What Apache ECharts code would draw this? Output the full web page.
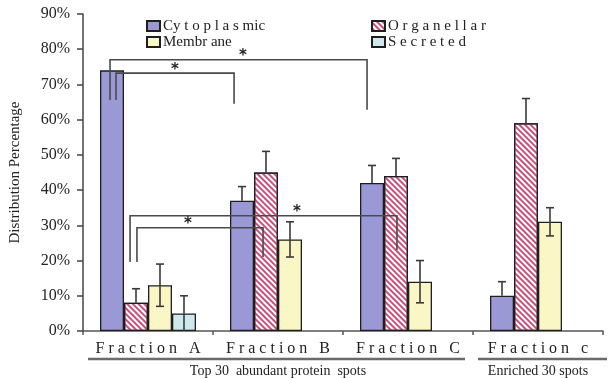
<!DOCTYPE html>
<html><head><meta charset="utf-8">
<script src="https://cdn.jsdelivr.net/npm/echarts@6/dist/echarts.min.js"></script>
<style>html,body{margin:0;padding:0;background:#fff}#c{width:613px;height:378px}</style>
</head><body><div id="c"></div>
<script>
// ---- data ----
const categories = ['Fraction A', 'Fraction B', 'Fraction C', 'Fraction c'];
const cytoplasmic = [74, 37, 42, 10];
const organellar  = [8, 45, 44, 59];
const membrane    = [13, 26, 14, 31];
const secreted    = [5, '-', '-', '-'];
const cytoErr = [0, 4, 5, 4];
const orgErr  = [4, 6, 5, 7];
const memErr  = [6, 5, 6, 4];
const secErr  = [5, 0, 0, 0];
const yTicks = [0, 10, 20, 30, 40, 50, 60, 70, 80, 90];
// significance brackets in (category units, percent): [xLeft, xRight, yTop, yLeftEnd, yRightEnd, xStar]
const brackets = [
  [-0.292, 1.685, 77.0, 65.6, 62.8, 0.731],
  [-0.246, 0.662, 73.2, 65.6, 64.5, 0.208],
  [-0.138, 1.915, 32.7, 19.6, 23.0, 1.146],
  [-0.085, 0.885, 29.3, 19.6, 21.0, 0.308]
];
const groupLabels = ['Top 30  abundant protein  spots', 'Enriched 30 spots'];

const SERIF = '"Liberation Serif", "DejaVu Serif", serif';
const BAR_W = 24;
const spaced = s => s.split('').join(' ');
const legendText = {
  Cytoplasmic: 'Cy t o p l a s mic',
  Organellar: 'O r g a n e l l a r',
  Membrane: 'Membr ane',
  Secreted: 'S e c r e t e d'
};

function errData(vals, errs) {
  const out = [];
  vals.forEach((v, i) => { if (typeof v === 'number' && errs[i] > 0) out.push([i, v, errs[i]]); });
  return out;
}
function errRender(slot, both) {
  return function (params, api) {
    const i = api.value(0), v = api.value(1), e = api.value(2);
    const off = (slot - 1.5) * BAR_W;
    const t = api.coord([i, v + e]);
    const b = api.coord([i, both ? Math.max(0, v - e) : v]);
    const x = t[0] + off, cap = 4;
    const st = { stroke: '#3a3a3a', lineWidth: 1.6 };
    const ch = [
      { type: 'line', shape: { x1: x, y1: t[1], x2: x, y2: b[1] }, style: st },
      { type: 'line', shape: { x1: x - cap, y1: t[1], x2: x + cap, y2: t[1] }, style: st }
    ];
    if (both && v - e > 0) ch.push({ type: 'line', shape: { x1: x - cap, y1: b[1], x2: x + cap, y2: b[1] }, style: st });
    return { type: 'group', children: ch };
  };
}
function bracketRender(params, api) {
  const x1 = api.value(0), x2 = api.value(1), yt = api.value(2), yl = api.value(3), yr = api.value(4), xs = api.value(5);
  const pl = api.coord([x1, yl]), ptl = api.coord([x1, yt]), ptr = api.coord([x2, yt]), pr = api.coord([x2, yr]);
  const ps = api.coord([xs, yt]);
  return {
    type: 'group', children: [
      { type: 'polyline', shape: { points: [pl, ptl, ptr, pr] }, style: { stroke: '#4a4a4a', lineWidth: 1.6, fill: null } },
      { type: 'text', style: { x: ps[0], y: ps[1] - 11, text: '*', textAlign: 'center', textVerticalAlign: 'top', font: 'bold 15px "DejaVu Sans"', fill: '#222' } }
    ]
  };
}

const barBase = { type: 'bar', barWidth: BAR_W, barGap: '0%', xAxisIndex: 0, yAxisIndex: 0 };
const border = { borderColor: '#1e1e1e', borderWidth: 1.3 };

const chart = echarts.init(document.getElementById('c'), null, { renderer: 'canvas' });
chart.setOption({
  animation: false,
  backgroundColor: '#fff',
  grid: { left: 83, right: 10, top: 14, bottom: 47 },
  legend: [
    { left: 141, top: 13, orient: 'vertical', itemGap: 0, itemWidth: 13, itemHeight: 10, icon: 'rect',
      data: ['Cytoplasmic', 'Membrane'], formatter: n => legendText[n],
      textStyle: { fontFamily: SERIF, fontSize: 15, color: '#222', lineHeight: 16, padding: [0, 0, 0, -2] } },
    { left: 366, top: 13, orient: 'vertical', itemGap: 0, itemWidth: 13, itemHeight: 10, icon: 'rect',
      data: ['Organellar', 'Secreted'], formatter: n => legendText[n],
      textStyle: { fontFamily: SERIF, fontSize: 15, color: '#222', lineHeight: 16, padding: [0, 0, 0, -2] } }
  ],
  xAxis: [
    { type: 'category', data: categories, boundaryGap: true,
      axisLine: { lineStyle: { color: '#555', width: 1.5 } },
      axisTick: { show: true, length: 4, lineStyle: { color: '#555', width: 1.5 } },
      axisLabel: { interval: 0, formatter: v => spaced(v), fontFamily: SERIF, fontSize: 16, color: '#222', margin: 10 } },
    { type: 'value', min: -0.5, max: 3.5, show: false }
  ],
  yAxis: [
    { type: 'value', min: 0, max: 90, interval: 10,
      name: 'Distribution Percentage', nameLocation: 'middle', nameGap: 60, nameRotate: 90,
      nameTextStyle: { fontFamily: SERIF, fontSize: 15, color: '#222' },
      axisLine: { show: true, onZero: false, lineStyle: { color: '#444', width: 1.5 } },
      axisTick: { show: true, length: 6, lineStyle: { color: '#444', width: 1.5 } },
      splitLine: { show: false },
      axisLabel: { formatter: v => (yTicks.includes(v) ? v + '%' : ''), fontFamily: SERIF, fontSize: 16, color: '#222', margin: 13 } }
  ],
  series: [
    Object.assign({}, barBase, { name: 'Cytoplasmic', data: cytoplasmic, itemStyle: Object.assign({ color: '#9b98d6' }, border) }),
    Object.assign({}, barBase, { name: 'Organellar', data: organellar, itemStyle: Object.assign({ color: '#ffffff',
      decal: { symbol: 'rect', symbolSize: 1, dashArrayX: [1, 0], dashArrayY: [1.2, 2], rotation: Math.PI / 4, color: '#c9507a' } }, border) }),
    Object.assign({}, barBase, { name: 'Membrane', data: membrane, itemStyle: Object.assign({ color: '#fbf6c6' }, border) }),
    Object.assign({}, barBase, { name: 'Secreted', data: secreted, itemStyle: Object.assign({ color: '#cde9ee' }, border) }),
    { type: 'custom', xAxisIndex: 0, yAxisIndex: 0, z: 5, renderItem: errRender(0, false), data: errData(cytoplasmic, cytoErr), encode: { x: 0, y: 1 } },
    { type: 'custom', xAxisIndex: 0, yAxisIndex: 0, z: 5, renderItem: errRender(1, false), data: errData(organellar, orgErr), encode: { x: 0, y: 1 } },
    { type: 'custom', xAxisIndex: 0, yAxisIndex: 0, z: 5, renderItem: errRender(2, true), data: errData(membrane, memErr), encode: { x: 0, y: 1 } },
    { type: 'custom', xAxisIndex: 0, yAxisIndex: 0, z: 5, renderItem: errRender(3, true), data: errData(secreted, secErr), encode: { x: 0, y: 1 } },
    { type: 'custom', xAxisIndex: 1, yAxisIndex: 0, z: 6, renderItem: bracketRender, data: brackets, encode: { x: [0, 1, 5], y: [2, 3, 4] } }
  ],
  graphic: [
    { type: 'line', shape: { x1: 88, y1: 359, x2: 465, y2: 359 }, style: { stroke: '#6a6a6a', lineWidth: 2.5 } },
    { type: 'line', shape: { x1: 478, y1: 359, x2: 607, y2: 359 }, style: { stroke: '#6a6a6a', lineWidth: 2.5 } },
    { type: 'text', x: 278, y: 371, style: { text: groupLabels[0], font: '14px ' + SERIF, textAlign: 'center', textVerticalAlign: 'middle', fill: '#222' } },
    { type: 'text', x: 538, y: 371, style: { text: groupLabels[1], font: '14px ' + SERIF, textAlign: 'center', textVerticalAlign: 'middle', fill: '#222' } }
  ]
});
</script>
</body></html>
